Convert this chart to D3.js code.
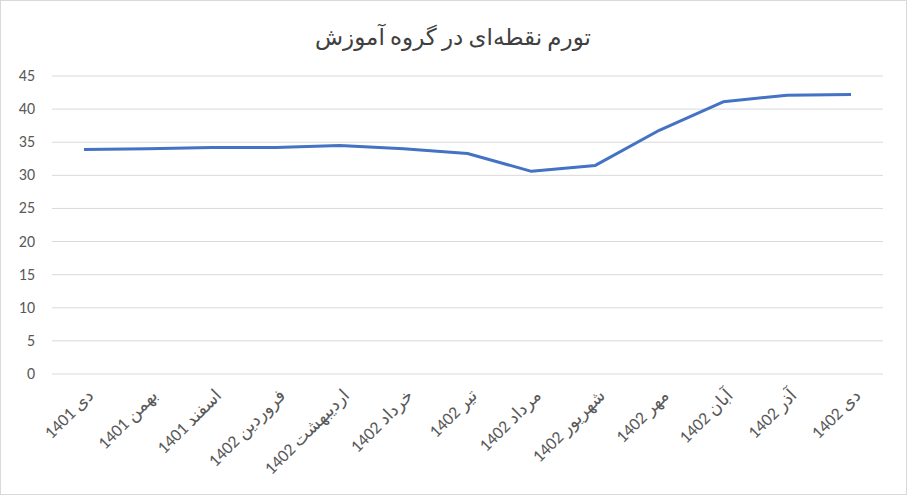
<!DOCTYPE html>
<html><head><meta charset="utf-8">
<script src="https://cdn.jsdelivr.net/npm/d3@7"></script>
<style>body{margin:0;background:#fff}svg{font-family:Calibri,Carlito,"Liberation Sans","DejaVu Sans",sans-serif}</style>
</head><body>
<svg id="c" width="907" height="495"></svg>
<script>
const categories = ['دی 1401','بهمن 1401','اسفند 1401','فروردین 1402','اردیبهشت 1402','خرداد 1402','تیر 1402','مرداد 1402','شهریور 1402','مهر 1402','آبان 1402','آذر 1402','دی 1402'];
const values = [33.9, 34.0, 34.2, 34.2, 34.5, 34.0, 33.3, 30.6, 31.5, 36.8, 41.1, 42.1, 42.2];
const yTicks = [0, 5, 10, 15, 20, 25, 30, 35, 40, 45];

const svg = d3.select('#c');
svg.append('rect').attr('x',0.5).attr('y',0.5).attr('width',906).attr('height',494)
  .attr('fill','#fff').attr('stroke','#d9d9d9');

const x = d3.scaleBand().domain(categories).range([52, 883]);
const y = d3.scaleLinear().domain([0, 45]).range([374, 76]);

svg.append('text').attr('x', 453).attr('y', 45).attr('text-anchor','middle')
  .attr('font-size', 23).attr('fill','#404040').text('تورم نقطه‌ای در گروه آموزش');

svg.append('g').selectAll('line').data(yTicks).join('line')
  .attr('x1',52).attr('x2',883).attr('y1',d=>y(d)).attr('y2',d=>y(d))
  .attr('stroke','#d9d9d9');

svg.append('g').selectAll('text').data(yTicks).join('text')
  .attr('x',35).attr('y',d=>y(d)+5).attr('text-anchor','end')
  .attr('font-size',16).attr('fill','#595959').text(d=>d);

const cx = d => x(d) + x.bandwidth()/2;
svg.append('g').selectAll('text').data(categories).join('text')
  .attr('transform', d => `translate(${cx(d)+2},${388}) rotate(-45)`)
  .attr('text-anchor','end').attr('dy','0.7em').attr('direction','ltr')
  .attr('font-size',17.5).attr('fill','#595959').text(d=>d);

svg.append('path').datum(values)
  .attr('d', d3.line().x((d,i)=>cx(categories[i])).y(d=>y(d)))
  .attr('fill','none').attr('stroke','#4472c4').attr('stroke-width',3).attr('stroke-linejoin','round');
</script>
</body></html>
